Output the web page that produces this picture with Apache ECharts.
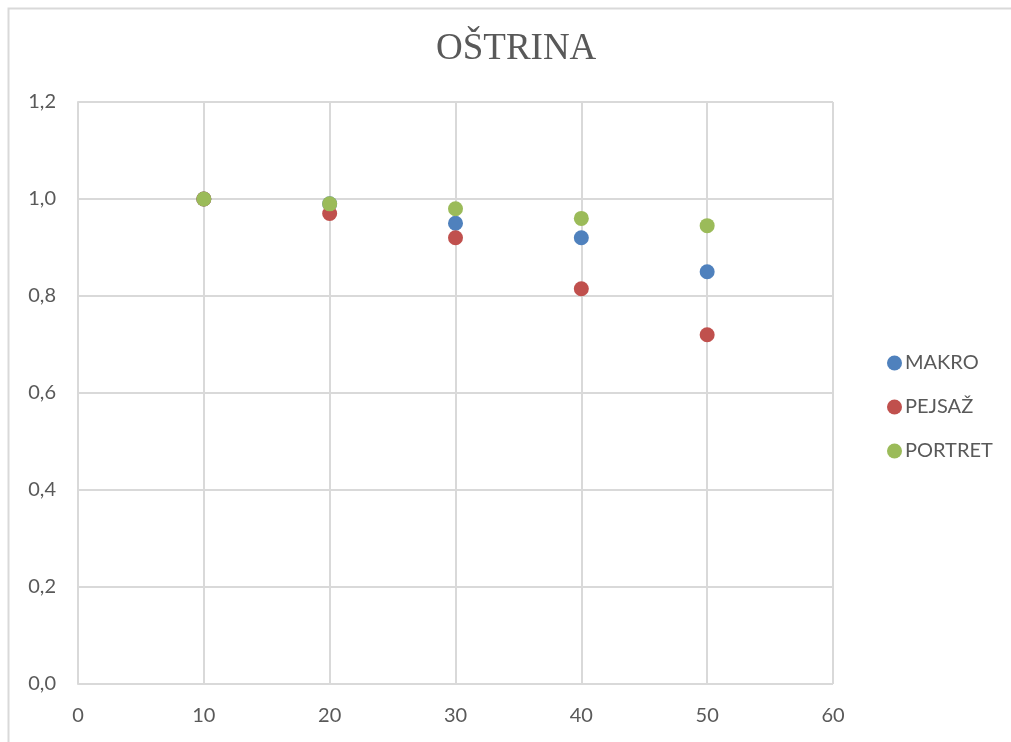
<!DOCTYPE html>
<html>
<head>
<meta charset="utf-8">
<script src="https://cdn.jsdelivr.net/npm/echarts@6/dist/echarts.min.js"></script>
<style>
  html, body { margin: 0; padding: 0; background: #fff; }
  #chart { width: 1011px; height: 742px; }
</style>
</head>
<body>
<div id="chart"></div>
<script>
  // values
  var xValues = [10, 20, 30, 40, 50];
  var makro = [1.0, 0.99, 0.95, 0.92, 0.85];
  var pejsaz = [1.0, 0.97, 0.92, 0.815, 0.72];
  var portret = [1.0, 0.99, 0.98, 0.96, 0.945];

  function pairs(ys) {
    return xValues.map(function (x, i) { return [x, ys[i]]; });
  }

  var labelColor = '#595959';
  var gridColor = '#d9d9d9';
  var font = 'Lato';

  var chart = echarts.init(document.getElementById('chart'));
  chart.setOption({
    animation: false,
    backgroundColor: '#fff',
    graphic: [{
      type: 'rect',
      left: 6, top: 6,
      shape: { width: 1100, height: 800 },
      style: { fill: 'none', stroke: gridColor, lineWidth: 2 },
      silent: true
    }],
    title: {
      text: 'OŠTRINA',
      left: 431,
      top: 26,
      textStyle: { fontFamily: 'Liberation Serif', fontSize: 37, fontWeight: 'normal', color: labelColor }
    },
    grid: { left: 78, right: 178, top: 102, bottom: 58 },
    legend: {
      orient: 'vertical',
      left: 882,
      top: 348,
      itemWidth: 15,
      itemHeight: 15,
      itemGap: 24,
      icon: 'circle',
      textStyle: { fontFamily: font, fontSize: 20, color: labelColor, padding: [0, 0, 0, -2] }
    },
    xAxis: {
      type: 'value',
      min: 0, max: 60, interval: 10,
      axisLine: { show: false },
      axisTick: { show: false },
      splitLine: { lineStyle: { color: gridColor, width: 2 } },
      axisLabel: { color: labelColor, fontFamily: font, fontSize: 20, margin: 22 }
    },
    yAxis: {
      type: 'value',
      min: 0, max: 1.2, interval: 0.2,
      axisLine: { show: true, lineStyle: { color: gridColor, width: 2 } },
      axisTick: { show: false },
      splitLine: { lineStyle: { color: gridColor, width: 2 } },
      axisLabel: {
        color: labelColor, fontFamily: font, fontSize: 20, margin: 22,
        formatter: function (v) { return v.toFixed(1).replace('.', ','); }
      }
    },
    series: [
      { name: 'MAKRO', type: 'scatter', symbolSize: 15, itemStyle: { color: '#4f81bd', opacity: 1 }, data: pairs(makro) },
      { name: 'PEJSAŽ', type: 'scatter', symbolSize: 15, itemStyle: { color: '#c0504d', opacity: 1 }, data: pairs(pejsaz) },
      { name: 'PORTRET', type: 'scatter', symbolSize: 15, itemStyle: { color: '#9bbb59', opacity: 1 }, data: pairs(portret) }
    ]
  });
</script>
</body>
</html>
